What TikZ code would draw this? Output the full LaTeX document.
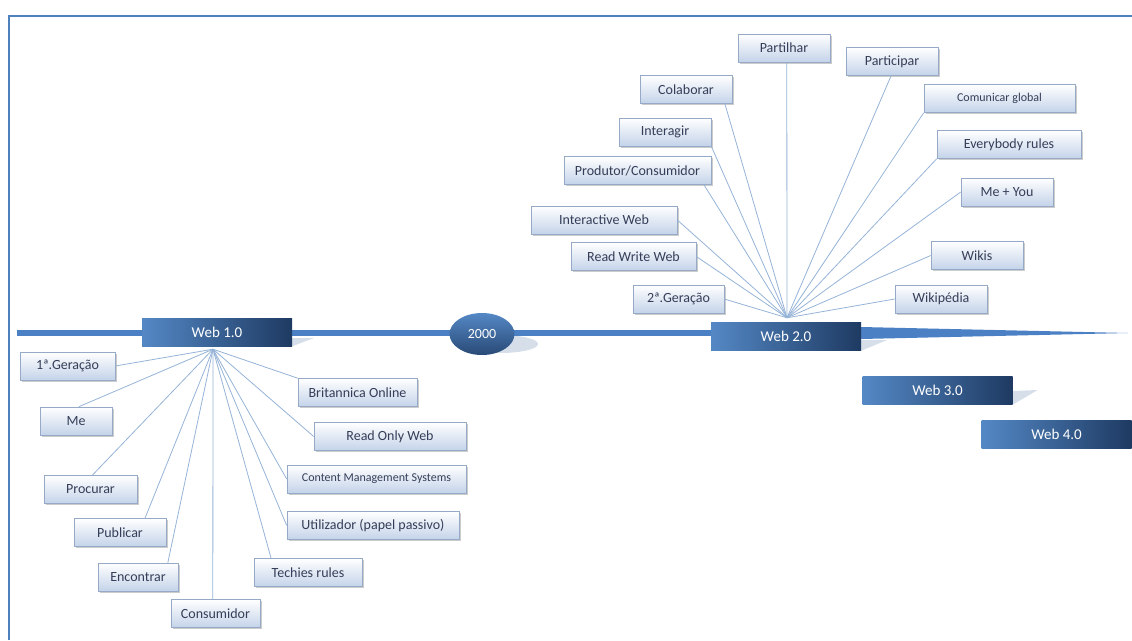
\documentclass[tikz,border=0pt]{standalone}
\usepackage{fontspec}
\setmainfont{Carlito}
\usetikzlibrary{calc,shapes.geometric,shadows}
\definecolor{framecol}{RGB}{79,129,189}
\definecolor{barcol}{RGB}{76,128,196}
\definecolor{spokecol}{RGB}{149,179,215}
\definecolor{tagline}{RGB}{150,170,200}
\definecolor{tagfill}{RGB}{196,211,233}
\definecolor{tagtext}{RGB}{52,62,88}
\definecolor{weblight}{RGB}{84,136,197}
\definecolor{webdark}{RGB}{30,58,98}
\definecolor{glint}{RGB}{214,222,234}
\pgfdeclarelayer{background}
\pgfsetlayers{background,main}
\tikzset{
    frame/.style={draw=framecol, line width=2pt},
    bar/.style={draw=barcol, line width=5.5pt},
    spoke/.style={draw=spokecol, line width=0.8pt},
    tag/.style={draw=tagline, line width=0.6pt, top color=white, bottom color=tagfill,
        minimum width=92pt, minimum height=28pt, inner sep=0pt, text=tagtext,
        font=\fontsize{14}{16}\selectfont,
        drop shadow={shadow xshift=1.5pt, shadow yshift=-1.5pt, fill=black!40, opacity=.5}},
    small/.style={font=\fontsize{12}{14}\selectfont},
    webbox/.style={left color=weblight, right color=webdark, minimum width=150pt,
        minimum height=28pt, inner sep=0pt, text=white, font=\fontsize{15}{17}\selectfont},
    ano/.style={ellipse, top color=weblight, bottom color=webdark!80!weblight, minimum width=65pt,
        minimum height=42pt, inner sep=0pt, text=white, font=\fontsize{14}{16}\selectfont}
}
\begin{document}
\begin{tikzpicture}[x=1pt,y=-1pt]
    \useasboundingbox (0,0) rectangle (1132,640);
    % frame on the left and on top
    \draw[frame] (8.5,640) -- (8.5,15.5) -- (1132,15.5);

    % the timeline
    \node[webbox] (web1) at (217,332) {Web 1.0};
    \node[webbox] (web2) at (786,336.5) {Web 2.0};
    \node[webbox] (web3) at (937.5,390.5) {Web 3.0};
    \node[webbox] (web4) at (1056.5,434.5) {Web 4.0};
    \node[ano] (ano) at (482,334) {2000};

    \begin{pgfonlayer}{background}
        % light reflections under the boxes
        \fill[glint] (web1.east |- 0,338) -- ++(22,0) -- (web1.south east) -- cycle;
        \fill[glint] (500,344) ellipse (38 and 9);
        \fill[glint] (web2.east |- 0,340) -- ++(26,0) -- (web2.south east) -- cycle;
        \fill[glint] (web3.east |- 0,391) -- ++(25,-1) -- (web3.south east) -- cycle;
        % bar and the wedge after Web 2.0
        \draw[bar] (17,333) -- (web2.west |- 0,333);
        \fill[barcol] (web2.east |- 0,327) -- (1128,333) -- (web2.east |- 0,339) -- cycle;
    \end{pgfonlayer}

    % Web 1.0 labels
    \node[tag, minimum width=95pt] (gen1) at (67.5,366) {1ª.Geração};
    \node[tag, minimum width=72pt] (me) at (76,421) {Me};
    \node[tag, minimum width=93pt] (procurar) at (90.5,489.5) {Procurar};
    \node[tag] (publicar) at (120,532.5) {Publicar};
    \node[tag, minimum width=80pt] (encontrar) at (138,577) {Encontrar};
    \node[tag, minimum width=89pt] (consumidor) at (215.5,613.5) {Consumidor};
    \node[tag, minimum width=108pt] (techies) at (308,572.5) {Techies rules};
    \node[tag, minimum width=172pt] (utilizador) at (373,525.5) {Utilizador (papel passivo)};
    \node[tag, small, minimum width=179pt] (cms) at (376.5,479) {Content Management Systems};
    \node[tag, minimum width=152pt] (readonly) at (390,436.5) {Read Only Web};
    \node[tag, minimum width=119pt] (britannica) at (357.5,392.5) {Britannica Online};

    % Web 2.0 labels
    \node[tag] (partilhar) at (784,48) {Partilhar};
    \node[tag] (participar) at (892,61.5) {Participar};
    \node[tag] (colaborar) at (686,89.5) {Colaborar};
    \node[tag, small, minimum width=151pt] (comunicar) at (999.5,98.5) {Comunicar global};
    \node[tag] (interagir) at (665,132) {Interagir};
    \node[tag, minimum width=144pt] (everybody) at (1009,144.5) {Everybody rules};
    \node[tag, minimum width=147pt] (produtor) at (637.5,170.5) {Produtor/Consumidor};
    \node[tag] (meyou) at (1007,192) {Me + You};
    \node[tag, minimum width=146pt] (interactive) at (604,220) {Interactive Web};
    \node[tag, minimum width=125pt] (readwrite) at (633.5,256.5) {Read Write Web};
    \node[tag] (wikis) at (977,255.5) {Wikis};
    \node[tag, minimum width=91pt] (gen2) at (678.5,299) {2ª.Geração};
    \node[tag] (wikipedia) at (941,299) {Wikipédia};

    % spokes
    \coordinate (hub1) at ([xshift=-4pt,yshift=-3pt]web1.south);
    \coordinate (hub2) at ([xshift=1pt,yshift=4.5pt]web2.north);
    \foreach \n/\a in {gen1/east,utilizador/west,cms/west,readonly/west,britannica/north west}
        \draw[spoke] (hub1) -- (\n.\a);
    \foreach \n/\f in {me/.54,procurar/.52,publicar/.77,encontrar/.87,consumidor/.47,techies/.16}
        \draw[spoke] (hub1) -- ($(\n.north west)!\f!(\n.north east)$);
    \foreach \n/\a in {comunicar/south west,interagir/south east,everybody/south west,meyou/west,
        interactive/east,readwrite/east,wikis/west,gen2/east,wikipedia/west}
        \draw[spoke] (hub2) -- (\n.\a);
    \foreach \n/\f in {partilhar/.53,participar/.49,colaborar/.92,produtor/.95}
        \draw[spoke] (hub2) -- ($(\n.south west)!\f!(\n.south east)$);
\end{tikzpicture}
\end{document}
